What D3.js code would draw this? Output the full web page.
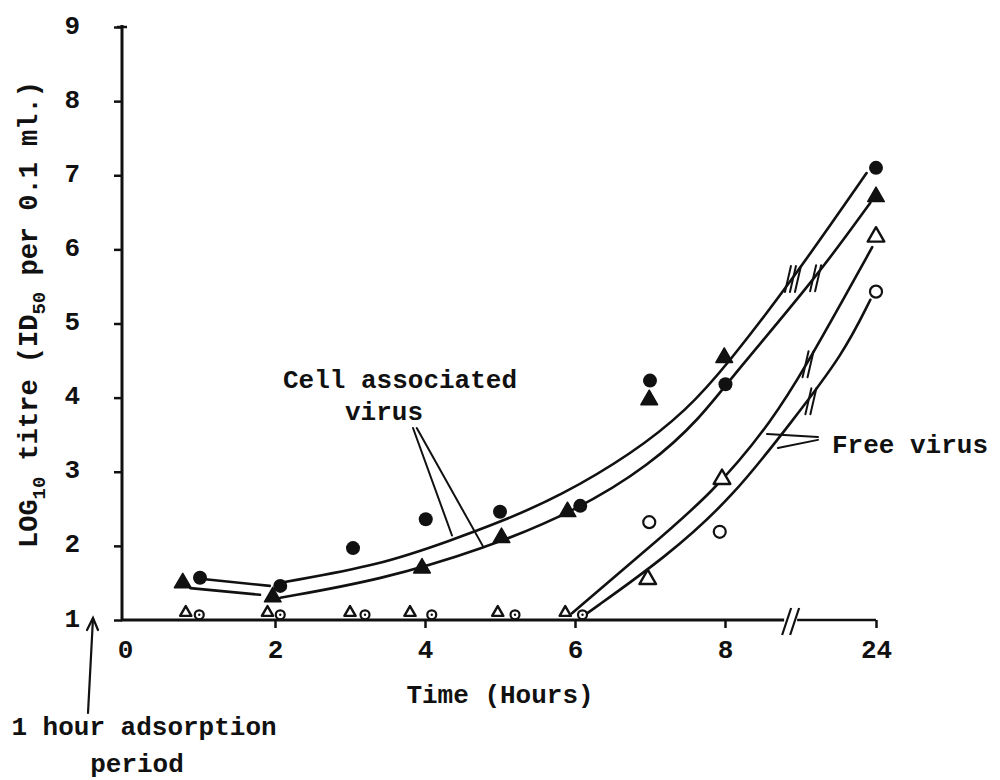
<!DOCTYPE html>
<html>
<head>
<meta charset="utf-8">
<script src="https://cdn.jsdelivr.net/npm/d3@7"></script>
<style>
  body { margin: 0; background: #fff; }
  svg text { font-family: "Liberation Mono", "Courier New", monospace; font-weight: bold; fill: #111; }
</style>
</head>
<body>
<svg id="chart" width="1000" height="780"></svg>
<script>
// Axis tick values
const hourTicks = [0, 2, 4, 6, 8, 24];
const titreTicks = [1, 2, 3, 4, 5, 6, 7, 8, 9];

// Cell associated virus, filled circles
const cellCircleHours = [1.0, 2.07, 3.04, 4.01, 5.0, 6.07, 7.0, 8.05, 24];
const cellCircleTitre = [1.57, 1.46, 1.97, 2.36, 2.46, 2.54, 4.23, 4.18, 7.1];

// Cell associated virus, filled triangles
const cellTriHours = [0.77, 1.97, 3.96, 5.02, 5.9, 6.99, 7.99, 24];
const cellTriTitre = [1.5, 1.31, 1.7, 2.11, 2.46, 3.97, 4.54, 6.71];

// Free virus, open triangles
const freeTriHours = [0.81, 1.9, 3.0, 3.8, 4.97, 5.87, 6.97, 7.96, 24];
const freeTriTitre = [1.1, 1.1, 1.1, 1.1, 1.1, 1.1, 1.55, 2.9, 6.17];

// Free virus, open circles
const freeCircleHours = [0.99, 2.07, 3.2, 4.09, 5.2, 6.1, 6.99, 7.93, 24];
const freeCircleTitre = [1.07, 1.07, 1.07, 1.07, 1.07, 1.07, 2.32, 2.19, 5.43];

// Hand-fitted curves, [hours, log10 titre]
const cellUpperEarly = [[1.07, 1.55], [1.93, 1.46]];
const cellLowerEarly = [[0.87, 1.43], [1.8, 1.34]];
const cellUpper = [[2.11, 1.51], [3.4, 1.74], [4.36, 2.08], [5.0, 2.32], [5.8, 2.67], [6.77, 3.25],
                   [7.49, 3.83], [8.21, 4.44], [15.2, 5.6], [23.0, 7.03]];
const cellLower = [[2.07, 1.3], [3.4, 1.54], [4.77, 1.95], [6.03, 2.48], [7.0, 3.09], [7.67, 3.72],
                   [8.85, 4.3], [17.6, 5.61], [23.4, 6.63]];
const freeLeft = [[5.96, 1.09], [6.87, 1.88], [7.84, 2.71], [13.1, 3.7], [16.8, 4.48], [20.2, 5.25], [23.6, 6.03]];
const freeRight = [[6.16, 1.09], [7.23, 1.86], [8.85, 2.66], [15.2, 3.7], [20.5, 4.58], [23.4, 5.32]];

// Break marks on the curves [hours, titre, strokes] and on the time axis
const curveBreaks = [[15.2, 5.6, 3], [17.6, 5.61, 2], [16.8, 4.45, 2], [17.1, 3.95, 2]];
const axisBreakHour = 14.9;

// Annotation leader lines, [from, to] in [hours, titre]
const cellLeaders = [[[3.84, 3.59], [4.36, 2.14]], [[3.89, 3.59], [4.77, 2.0]]];
const freeLeaders = [[[17.85, 3.47], [12.45, 3.51]], [[17.85, 3.43], [13.6, 3.32]]];

const ink = "#111";
const svg = d3.select("#chart");

// Time axis is broken between 8 and 24 hours
const x = d3.scaleLinear().domain([0, 8, 24]).range([125, 725, 876]);
const y = d3.scaleLinear().domain([1, 9]).range([620, 27]);

const smooth = d3.line().x(d => x(d[0])).y(d => y(d[1])).curve(d3.curveBasis);

// Curves
const curves = svg.append("g").attr("fill", "none").attr("stroke", ink)
  .attr("stroke-width", 2.6).attr("stroke-linecap", "round").attr("stroke-linejoin", "round");
[cellUpperEarly, cellLowerEarly, cellUpper, cellLower, freeLeft, freeRight].forEach(c => {
  curves.append("path").attr("d", smooth(c));
});

// Break marks across the curves
curveBreaks.forEach(([h, v, n]) => {
  const cx = x(h), cy = y(v);
  for (let i = 0; i < n; i++) {
    const off = (i - (n - 1) / 2) * 5;
    curves.append("line")
      .attr("x1", cx + off + 3).attr("y1", cy - 13)
      .attr("x2", cx + off - 3).attr("y2", cy + 13)
      .attr("stroke-width", 2);
  }
});

// Leader lines
[...cellLeaders, ...freeLeaders].forEach(([a, b]) => {
  curves.append("line")
    .attr("x1", x(a[0])).attr("y1", y(a[1]))
    .attr("x2", x(b[0])).attr("y2", y(b[1]))
    .attr("stroke-width", 2);
});

// Markers
const marks = svg.append("g");
const zip = (hs, vs) => hs.map((h, i) => [h, vs[i]]);
const isBase = d => d[1] <= 1.12;

// Open markers are filled white so the lines break around them
marks.selectAll(".ftri").data(zip(freeTriHours, freeTriTitre)).join("path")
  .attr("transform", d => `translate(${x(d[0])},${y(d[1])})`)
  .attr("d", d => d3.symbol(d3.symbolTriangle, isBase(d) ? 55 : 120)())
  .attr("fill", "#fff").attr("stroke", ink).attr("stroke-width", 2.4)
  .attr("stroke-linejoin", "round");
marks.selectAll(".fcir").data(zip(freeCircleHours, freeCircleTitre)).join("circle")
  .attr("cx", d => x(d[0])).attr("cy", d => y(d[1]))
  .attr("r", d => isBase(d) ? 4.5 : 6)
  .attr("fill", "#fff").attr("stroke", ink).attr("stroke-width", 2.2);
marks.selectAll(".fdot").data(zip(freeCircleHours, freeCircleTitre).filter(isBase)).join("circle")
  .attr("cx", d => x(d[0])).attr("cy", d => y(d[1])).attr("r", 1.2).attr("fill", ink);

marks.selectAll(".ccir").data(zip(cellCircleHours, cellCircleTitre)).join("circle")
  .attr("cx", d => x(d[0])).attr("cy", d => y(d[1])).attr("r", 7).attr("fill", ink);
marks.selectAll(".ctri").data(zip(cellTriHours, cellTriTitre)).join("path")
  .attr("transform", d => `translate(${x(d[0])},${y(d[1])})`)
  .attr("d", d3.symbol(d3.symbolTriangle, 120)())
  .attr("fill", ink).attr("stroke", ink).attr("stroke-width", 1.5).attr("stroke-linejoin", "round");

// Time axis
const gx = svg.append("g").attr("transform", `translate(0,${y(1)})`)
  .call(d3.axisBottom(x).tickValues(hourTicks).tickSize(8).tickFormat(d3.format("d")));
gx.select(".domain").remove();
gx.selectAll(".tick line").attr("stroke", ink).attr("stroke-width", 2.5);
gx.selectAll(".tick").filter(d => d === 0).select("line").remove();
gx.selectAll(".tick text").attr("font-size", 26).attr("y", 38).attr("dy", 0);
gx.append("line").attr("x1", x(0) - 4).attr("x2", x(axisBreakHour) - 6)
  .attr("stroke", ink).attr("stroke-width", 3);
gx.append("line").attr("x1", x(axisBreakHour) + 7).attr("x2", x(24))
  .attr("stroke", ink).attr("stroke-width", 2.5);
[-4, 4].forEach(o => {
  gx.append("line")
    .attr("x1", x(axisBreakHour) + o + 5).attr("y1", -12)
    .attr("x2", x(axisBreakHour) + o - 4).attr("y2", 15)
    .attr("stroke", ink).attr("stroke-width", 2.2);
});

// Titre axis: ticks from the axis generator, labels set further out
const axisX = x(0) - 3;
const gy = svg.append("g").attr("transform", `translate(${axisX},0)`)
  .call(d3.axisLeft(y).tickValues(titreTicks).tickSize(8).tickFormat(""));
gy.select(".domain").remove();
gy.append("line").attr("y1", y(1) + 1).attr("y2", y(9) - 2).attr("stroke", ink).attr("stroke-width", 3);
gy.append("line").attr("x1", -5).attr("x2", 5).attr("y1", y(9)).attr("y2", y(9)).attr("stroke", ink).attr("stroke-width", 2.5);
gy.selectAll(".tick line").attr("stroke", ink).attr("stroke-width", 2.5);
svg.append("g").selectAll("text").data(titreTicks).join("text")
  .attr("x", axisX - 42).attr("y", d => y(d)).attr("dy", "0.25em")
  .attr("text-anchor", "end").attr("font-size", 26).text(d => d);

// Axis titles
svg.append("text").attr("x", 500).attr("y", 703).attr("text-anchor", "middle")
  .attr("font-size", 26).text("Time (Hours)");

const yt = svg.append("text").attr("transform", "translate(37,548) rotate(-90)")
  .attr("font-size", 27);
yt.append("tspan").text("LOG");
yt.append("tspan").attr("dy", 8).attr("font-size", 19).text("10");
yt.append("tspan").attr("dy", -8).text(" titre (ID");
yt.append("tspan").attr("dy", 8).attr("font-size", 19).text("50");
yt.append("tspan").attr("dy", -8).text(" per 0.1 ml.)");

// Annotations
svg.append("text").attr("x", 400).attr("y", 388).attr("text-anchor", "middle")
  .attr("font-size", 26).text("Cell associated");
svg.append("text").attr("x", 384).attr("y", 420).attr("text-anchor", "middle")
  .attr("font-size", 26).text("virus");
svg.append("text").attr("x", 910).attr("y", 453).attr("text-anchor", "middle")
  .attr("font-size", 26).text("Free virus");
svg.append("text").attr("x", 144).attr("y", 735).attr("text-anchor", "middle")
  .attr("font-size", 26).text("1 hour adsorption");
svg.append("text").attr("x", 137).attr("y", 772).attr("text-anchor", "middle")
  .attr("font-size", 26).text("period");

// Arrow marking the adsorption period
const ax = x(0) - 32;
const arrow = svg.append("g").attr("stroke", ink).attr("stroke-width", 2.2).attr("fill", "none")
  .attr("stroke-linecap", "round");
arrow.append("path").attr("d", `M${ax - 5},${y(1) + 93} L${ax},${y(1) - 2}`);
arrow.append("path").attr("d", `M${ax - 6},${y(1) + 10} L${ax},${y(1) - 2} L${ax + 5},${y(1) + 10}`);
</script>
</body>
</html>
